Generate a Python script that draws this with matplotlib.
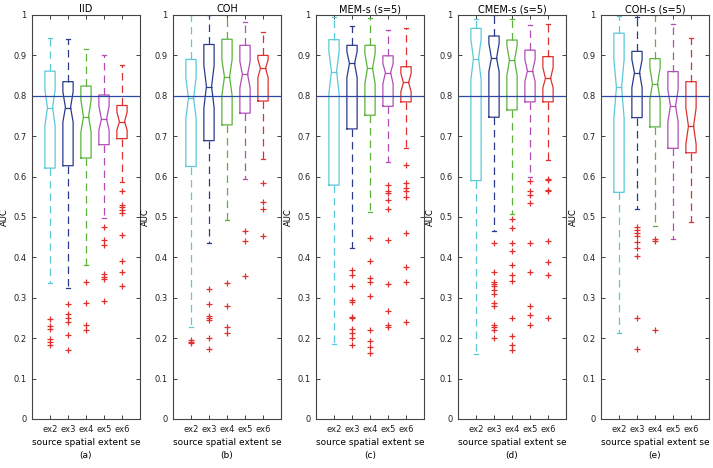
import matplotlib.pyplot as plt

titles = ['IID', 'COH', 'MEM-s (s=5)', 'CMEM-s (s=5)', 'COH-s (s=5)']
letters = ['(a)', '(b)', '(c)', '(d)', '(e)']
extents = ['ex2', 'ex3', 'ex4', 'ex5', 'ex6']
colors = ['#5cc9d9', '#2c3a8c', '#5cb33c', '#b24db5', '#e0302e']

# per panel, per extent (ex2..ex6)
medians = [
    [0.771, 0.771, 0.748, 0.742, 0.736],
    [0.794, 0.823, 0.847, 0.853, 0.868],
    [0.860, 0.880, 0.868, 0.857, 0.833],
    [0.892, 0.893, 0.888, 0.862, 0.843],
    [0.821, 0.857, 0.830, 0.775, 0.725],
]
q1 = [
    [0.621, 0.627, 0.646, 0.679, 0.694],
    [0.625, 0.689, 0.728, 0.757, 0.787],
    [0.579, 0.718, 0.752, 0.774, 0.785],
    [0.590, 0.747, 0.765, 0.785, 0.785],
    [0.561, 0.746, 0.723, 0.670, 0.659],
]
q3 = [
    [0.861, 0.835, 0.824, 0.802, 0.776],
    [0.890, 0.927, 0.940, 0.925, 0.900],
    [0.939, 0.925, 0.925, 0.899, 0.872],
    [0.967, 0.948, 0.938, 0.913, 0.897],
    [0.955, 0.910, 0.892, 0.860, 0.835],
]
whisk_lo = [
    [0.336, 0.325, 0.380, 0.497, 0.587],
    [0.227, 0.435, 0.493, 0.593, 0.643],
    [0.186, 0.424, 0.512, 0.636, 0.670],
    [0.160, 0.465, 0.507, 0.600, 0.640],
    [0.212, 0.520, 0.478, 0.445, 0.488],
]
whisk_hi = [
    [0.944, 0.941, 0.915, 0.900, 0.877],
    [1.000, 1.000, 1.000, 0.983, 0.958],
    [0.995, 0.973, 0.993, 0.963, 0.967],
    [0.990, 1.000, 0.990, 0.975, 0.977],
    [0.997, 0.995, 1.000, 0.977, 0.944],
]
notch_lo = [
    [0.725, 0.735, 0.710, 0.715, 0.715],
    [0.745, 0.770, 0.800, 0.820, 0.845],
    [0.805, 0.845, 0.830, 0.830, 0.810],
    [0.840, 0.860, 0.850, 0.835, 0.820],
    [0.745, 0.820, 0.790, 0.735, 0.680],
]
notch_hi = [
    [0.815, 0.810, 0.790, 0.775, 0.760],
    [0.845, 0.875, 0.890, 0.885, 0.890],
    [0.910, 0.910, 0.905, 0.880, 0.855],
    [0.940, 0.930, 0.925, 0.890, 0.870],
    [0.890, 0.890, 0.870, 0.815, 0.770],
]
outliers = [
    [[0.247, 0.230, 0.224, 0.197, 0.190, 0.182],
     [0.285, 0.260, 0.250, 0.240, 0.208, 0.171],
     [0.340, 0.288, 0.232, 0.220],
     [0.476, 0.443, 0.430, 0.360, 0.352, 0.347, 0.293],
     [0.565, 0.530, 0.525, 0.518, 0.510, 0.455, 0.390, 0.365, 0.330]],
    [[0.195, 0.190, 0.187],
     [0.322, 0.285, 0.255, 0.250, 0.245, 0.200, 0.173],
     [0.336, 0.280, 0.228, 0.213],
     [0.465, 0.440, 0.353],
     [0.585, 0.537, 0.520, 0.452]],
    [[],
     [0.370, 0.357, 0.328, 0.295, 0.290, 0.252, 0.250, 0.224, 0.213, 0.200, 0.184],
     [0.447, 0.390, 0.350, 0.338, 0.305, 0.220, 0.193, 0.178, 0.163],
     [0.580, 0.565, 0.560, 0.542, 0.520, 0.443, 0.335, 0.268, 0.232, 0.227],
     [0.628, 0.583, 0.573, 0.565, 0.550, 0.460, 0.376, 0.338, 0.240]],
    [[],
     [0.435, 0.365, 0.340, 0.333, 0.328, 0.320, 0.310, 0.287, 0.280, 0.232, 0.227, 0.220, 0.200],
     [0.494, 0.472, 0.436, 0.415, 0.380, 0.356, 0.342, 0.250, 0.205, 0.183, 0.170],
     [0.588, 0.565, 0.555, 0.535, 0.436, 0.363, 0.280, 0.258, 0.233],
     [0.595, 0.592, 0.568, 0.565, 0.440, 0.388, 0.357, 0.250]],
    [[],
     [0.475, 0.468, 0.460, 0.452, 0.437, 0.423, 0.403, 0.250, 0.174],
     [0.445, 0.440, 0.220],
     [],
     []],
]
threshold = 0.8

W, H = 713, 468
fig = plt.figure(figsize=(W / 100, H / 100), dpi=100)

lefts = [32, 173, 316, 458, 601]
ax_w, ax_top, ax_bot = 108, 15, 419

for p in range(5):
    ax = fig.add_axes([lefts[p] / W, (H - ax_bot) / H, ax_w / W, (ax_bot - ax_top) / H])
    stats = []
    for i in range(5):
        stats.append(dict(med=medians[p][i], q1=q1[p][i], q3=q3[p][i],
                          whislo=whisk_lo[p][i], whishi=whisk_hi[p][i],
                          cilo=notch_lo[p][i], cihi=notch_hi[p][i],
                          fliers=outliers[p][i]))
    pos = list(range(1, 6))
    art = ax.bxp(stats, positions=pos, widths=0.57, shownotches=True,
                 capwidths=0.25, showfliers=True)
    for i, c in enumerate(colors):
        art['boxes'][i].set(color=c, linewidth=0.9)
        art['medians'][i].set(color=c, linewidth=0.9)
        for k in (2 * i, 2 * i + 1):
            art['whiskers'][k].set(color=c, linestyle=(0, (6, 4)), linewidth=0.9)
            art['caps'][k].set(color=c, linewidth=0.9)
        art['fliers'][i].set(marker='+', markeredgecolor='#e0302e',
                             markersize=4, markeredgewidth=0.9)

    ax.axhline(threshold, color='#2c4aa0', linewidth=0.9)
    ax.set_xlim(0, 6)
    ax.set_ylim(0, 1)
    ax.set_yticks([k / 10 for k in range(11)])
    ax.set_yticklabels([f'{k / 10:g}' for k in range(11)], fontsize=6)
    ax.set_xticks(pos)
    ax.set_xticklabels(extents, fontsize=6)
    ax.tick_params(direction='in', length=3, width=0.6, top=True, right=True,
                   colors='#222222', pad=4)
    for s in ax.spines.values():
        s.set_color('#444444')
        s.set_linewidth(0.8)
    ax.set_title(titles[p], fontsize=7, pad=2)
    ax.set_ylabel('AUC', fontsize=6, labelpad=3)
    ax.set_xlabel('source spatial extent se\n' + letters[p], fontsize=6.5,
                  labelpad=3, linespacing=1.6)

fig.savefig('out.png', dpi=100)
